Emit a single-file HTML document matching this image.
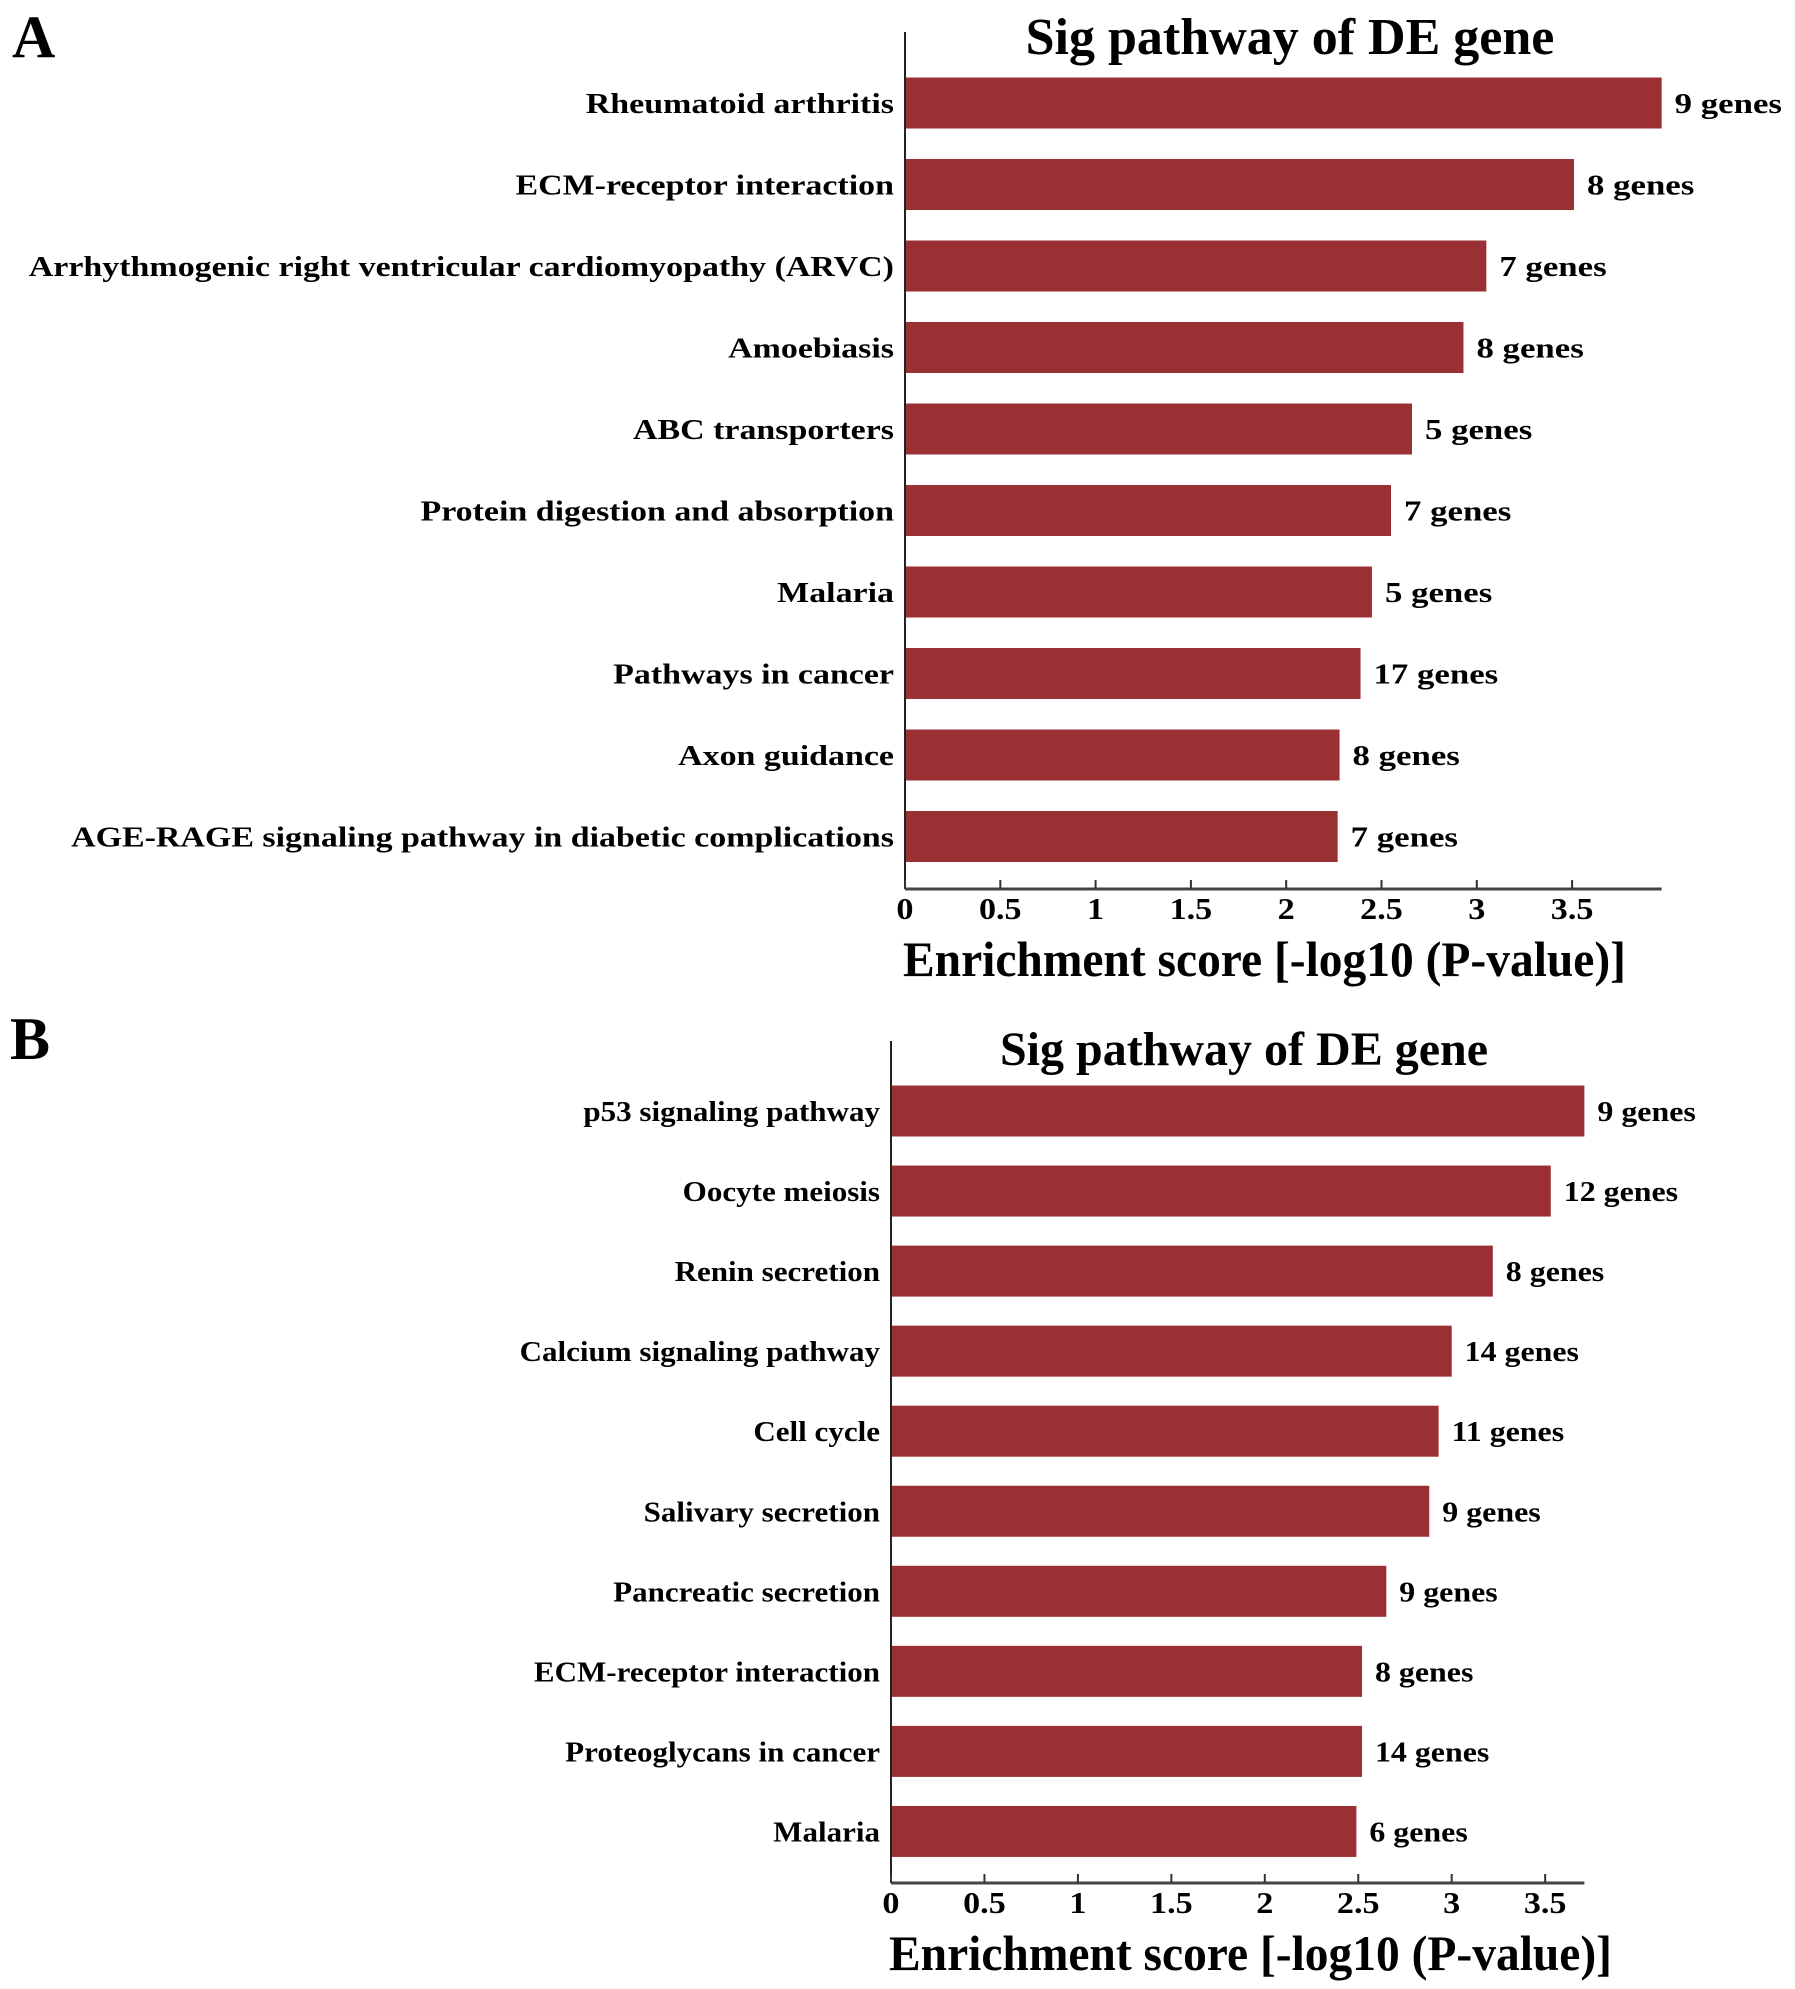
<!DOCTYPE html>
<html><head><meta charset="utf-8">
<style>
html,body{margin:0;padding:0;background:#fff;}
svg{display:block;font-family:"Liberation Serif",serif;font-weight:bold;}
</style></head>
<body>
<svg id="chart" width="1795" height="1989" viewBox="0 0 1795 1989" xmlns="http://www.w3.org/2000/svg">
<text x="12" y="57" font-size="60">A</text>
<text x="10" y="1059" font-size="60">B</text>
<g id="panelA"></g>
<g id="panelB"></g>
</svg>
<script>
const catsA = ["Rheumatoid arthritis","ECM-receptor interaction","Arrhythmogenic right ventricular cardiomyopathy (ARVC)","Amoebiasis","ABC transporters","Protein digestion and absorption","Malaria","Pathways in cancer","Axon guidance","AGE-RAGE signaling pathway in diabetic complications"];
const valsA = [3.97,3.51,3.05,2.93,2.66,2.55,2.45,2.39,2.28,2.27];
const genesA = ["9 genes","8 genes","7 genes","8 genes","5 genes","7 genes","5 genes","17 genes","8 genes","7 genes"];
const catsB = ["p53 signaling pathway","Oocyte meiosis","Renin secretion","Calcium signaling pathway","Cell cycle","Salivary secretion","Pancreatic secretion","ECM-receptor interaction","Proteoglycans in cancer","Malaria"];
const valsB = [3.71,3.53,3.22,3.00,2.93,2.88,2.65,2.52,2.52,2.49];
const genesB = ["9 genes","12 genes","8 genes","14 genes","11 genes","9 genes","9 genes","8 genes","14 genes","6 genes"];
const ticks = [0,0.5,1,1.5,2,2.5,3,3.5];
const tickLabels = ["0","0.5","1","1.5","2","2.5","3","3.5"];

const NS="http://www.w3.org/2000/svg";
function mk(parent,tag,attrs,text){
  const e=document.createElementNS(NS,tag);
  for(const k in attrs) e.setAttribute(k,attrs[k]);
  if(text!==undefined) e.textContent=text;
  parent.appendChild(e); return e;
}
function stretch(e,f){
  const w=e.getComputedTextLength();
  e.setAttribute('textLength',(w*f).toFixed(1));
  e.setAttribute('lengthAdjust','spacingAndGlyphs');
}
function draw(g,cfg,cats,vals,genes){
  const xs=v=>cfg.x0+v*cfg.unit;
  const ys=i=>cfg.yc0+i*cfg.step;
  let t=mk(g,'text',{x:cfg.titleX,y:cfg.titleY,'font-size':cfg.titleSize,'text-anchor':'middle'},'Sig pathway of DE gene');
  
  
  cats.forEach((c,i)=>{
    const r=mk(g,'rect',{x:xs(0),y:ys(i)-cfg.bh/2,width:xs(vals[i])-xs(0),height:cfg.bh,fill:'#9b3034'});
    
    
    const l=mk(g,'text',{x:cfg.x0-11,y:ys(i)+10,'font-size':29,'text-anchor':'end'},c);
    
    
    stretch(l,cfg.lf);
    const n=mk(g,'text',{x:xs(vals[i])+13,y:ys(i)+10,'font-size':29},genes[i]);
    
    
    stretch(n,cfg.gf);
  });
  const ya=mk(g,'line',{x1:cfg.x0,y1:cfg.yTop,x2:cfg.x0,y2:cfg.yAxis,stroke:'#222','stroke-width':2});
  
  
  const xa=mk(g,'line',{x1:cfg.x0,y1:cfg.yAxis,x2:xs(cfg.xmax),y2:cfg.yAxis,stroke:'#444','stroke-width':3});
  
  
  ticks.forEach((v,i)=>{
    const tk=mk(g,'line',{x1:xs(v),y1:cfg.yAxis,x2:xs(v),y2:cfg.yAxis-9,stroke:'#333','stroke-width':2});
    
    
    const tl=mk(g,'text',{x:xs(v),y:cfg.yAxis+30,'font-size':31,'text-anchor':'middle'},tickLabels[i]);
    
    
    stretch(tl,1.1);
  });
  const at=mk(g,'text',{x:cfg.x0-2,y:cfg.yAxis+87,'font-size':50,textLength:723,lengthAdjust:'spacingAndGlyphs'},'Enrichment score [-log10 (P-value)]');
  
  
}
draw(document.getElementById('panelA'),{x0:905,unit:190.6,yc0:103,step:81.5,bh:51,yTop:32,yAxis:889,xmax:3.97,titleX:1290,titleY:54,titleSize:52,lf:1.17,gf:1.2},catsA,valsA,genesA);
draw(document.getElementById('panelB'),{x0:891,unit:186.9,yc0:1111,step:80.05,bh:51,yTop:1041,yAxis:1883,xmax:3.71,titleX:1244,titleY:1065,titleSize:48,lf:1.07,gf:1.1},catsB,valsB,genesB);
</script>
</body></html>
